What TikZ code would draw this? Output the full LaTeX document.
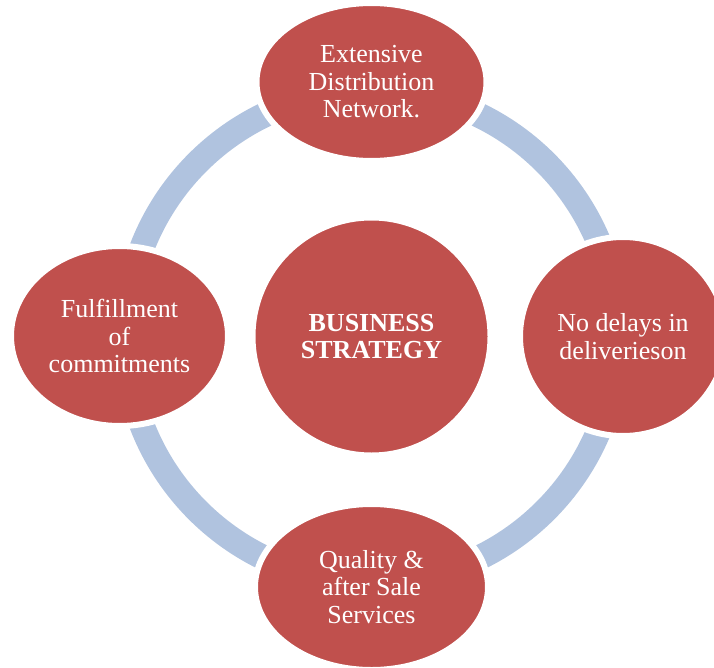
\documentclass[tikz,border=0pt]{standalone}
\usepackage{fontspec}
\setmainfont{Liberation Serif}
\usetikzlibrary{shapes.geometric}
\definecolor{myred}{HTML}{C0504D}
\definecolor{ringblue}{HTML}{B0C3DF}
\tikzset{
  sat/.style={ellipse, fill=myred, draw=white, line width=6bp, text=white,
    align=center, inner sep=0pt, font=\fontsize{26bp}{27.5bp}\selectfont},
  hub/.style={circle, fill=myred, draw=white, line width=6bp, text=white,
    align=center, inner sep=0pt, minimum size=238bp,
    font=\fontsize{26bp}{27.5bp}\selectfont\bfseries},
  ringband/.style={draw=ringblue, line width=25bp}
}
\begin{document}
\begin{tikzpicture}[x=1bp,y=-1bp]
\clip (0,0) rectangle (714,668);
\fill[white] (0,0) rectangle (714,668);
\coordinate (ctr) at (371.5,336.5);
\draw[ringband] (ctr) circle[radius=246bp];
\node[hub] (hub) at (371.5,336.5) {BUSINESS\\STRATEGY};
\node[sat, minimum width=230bp, minimum height=158bp] (top) at (371.5,82) {Extensive\\Distribution\\Network.};
\node[sat, minimum width=217bp, minimum height=180bp] (left) at (119.5,336) {Fulfillment\\of\\commitments};
\node[sat, minimum width=206bp, minimum height=199bp] (right) at (623,336.5) {No delays in\\deliverieson};
\node[sat, minimum width=233bp, minimum height=166bp] (bottom) at (371.5,587) {Quality \&\\after Sale\\Services};
\end{tikzpicture}
\end{document}
